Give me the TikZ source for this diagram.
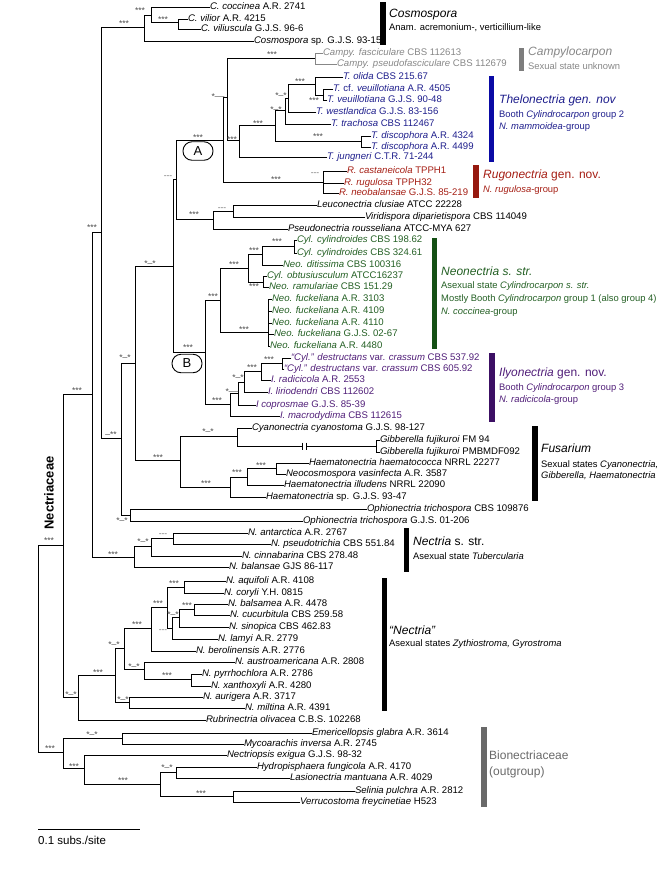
\documentclass[tikz,border=0pt]{standalone}
\usepackage{fontspec}
\setmainfont{Liberation Sans}
\definecolor{tblue}{RGB}{30,30,140}
\definecolor{bblue}{RGB}{10,10,165}
\definecolor{tred}{RGB}{165,30,20}
\definecolor{bred}{RGB}{150,25,15}
\definecolor{tgreen}{RGB}{35,95,35}
\definecolor{bgreen}{RGB}{20,80,20}
\definecolor{tpurp}{RGB}{80,30,120}
\definecolor{bpurp}{RGB}{60,15,100}
\definecolor{tgray}{RGB}{135,135,135}
\definecolor{bgray}{RGB}{125,125,125}
\definecolor{ogray}{RGB}{105,105,105}
\newcommand{\leafat}[5]{\coordinate (#1) at (#2,#3); \node[lf,#4] (#1t) at (#1) {#5};}
\newcommand{\supus}{\raisebox{3.8pt}{\_}}
\begin{document}
\begin{tikzpicture}[x=1pt,y=-1pt,
  br/.style={line width=0.9pt, line cap=rect},
  lf/.style={anchor=mid west, inner sep=0pt, outer sep=0pt, font=\fontsize{9.6}{10}\selectfont},
  lab/.style={anchor=base, yshift=-4.6pt, inner sep=0pt, font=\fontsize{8.5}{8.5}\selectfont, text=black!70},
  labd/.style={anchor=base, yshift=-2.3pt, inner sep=0pt, font=\fontsize{8.5}{8.5}\selectfont, text=black!55},
  ctitle/.style={anchor=mid west, inner sep=0pt, font=\fontsize{12}{12}\selectfont},
  csub/.style={anchor=mid west, inner sep=0pt, font=\fontsize{9.4}{10}\selectfont},
  oval/.style={draw, line width=0.9pt, rounded corners=9pt, minimum width=30pt, minimum height=18.5pt, inner sep=0pt, font=\fontsize{13}{13}\selectfont}
]
\useasboundingbox (0,0) rectangle (662,881);

% ---------- leaves ----------
\leafat{Lcoc}{210}{7}{}{\textit{C. coccinea} A.R. 2741}
\leafat{Lvil}{188}{19}{}{\textit{C. vilior} A.R. 4215}
\leafat{Lvls}{201}{29}{}{\textit{C. viliuscula} G.J.S. 96-6}
\leafat{Lcsp}{254}{41}{}{\textit{Cosmospora} sp. G.J.S. 93-15}
\leafat{Lcpf}{323}{53}{text=tgray}{\textit{Campy. fasciculare} CBS 112613}
\leafat{Lcpp}{337}{64}{text=tgray}{\textit{Campy. pseudofasciculare} CBS 112679}
\leafat{Loli}{343}{77}{text=tblue}{\textit{T. olida} CBS 215.67}
\leafat{Lcfv}{333}{89}{text=tblue}{\textit{T.} cf. \textit{veuillotiana} A.R. 4505}
\leafat{Lveu}{327}{100}{text=tblue}{\textit{T. veuillotiana} G.J.S. 90-48}
\leafat{Lwes}{316}{112}{text=tblue}{\textit{T. westlandica} G.J.S. 83-156}
\leafat{Ltra}{331}{124}{text=tblue}{\textit{T. trachosa} CBS 112467}
\leafat{Ldi1}{371}{136}{text=tblue}{\textit{T. discophora} A.R. 4324}
\leafat{Ldi2}{371}{147}{text=tblue}{\textit{T. discophora} A.R. 4499}
\leafat{Ljun}{327}{157}{text=tblue}{\textit{T. jungneri} C.T.R. 71-244}
\leafat{Lrca}{347}{171}{text=tred}{\textit{R. castaneicola} TPPH1}
\leafat{Lrru}{344}{183}{text=tred}{\textit{R. rugulosa} TPPH32}
\leafat{Lrne}{339}{193}{text=tred}{\textit{R. neobalansae} G.J.S. 85-219}
\leafat{Lleu}{317}{205}{}{\textit{Leuconectria clusiae} ATCC 22228}
\leafat{Lvir}{365}{217}{}{\textit{Viridispora diparietispora} CBS 114049}
\leafat{Lpse}{288}{229}{}{\textit{Pseudonectria rousseliana} ATCC-MYA 627}
\leafat{Lcy1}{297}{240}{text=tgreen}{\textit{Cyl. cylindroides} CBS 198.62}
\leafat{Lcy2}{297}{253}{text=tgreen}{\textit{Cyl. cylindroides} CBS 324.61}
\leafat{Ldit}{283}{265}{text=tgreen}{\textit{Neo. ditissima} CBS 100316}
\leafat{Lobt}{267}{276}{text=tgreen}{\textit{Cyl. obtusiusculum} ATCC16237}
\leafat{Lram}{269}{287}{text=tgreen}{\textit{Neo. ramulariae} CBS 151.29}
\leafat{Lfu1}{272}{299}{text=tgreen}{\textit{Neo. fuckeliana} A.R. 3103}
\leafat{Lfu2}{272}{311}{text=tgreen}{\textit{Neo. fuckeliana} A.R. 4109}
\leafat{Lfu3}{272}{323}{text=tgreen}{\textit{Neo. fuckeliana} A.R. 4110}
\leafat{Lfu4}{274}{334}{text=tgreen}{\textit{Neo. fuckeliana} G.J.S. 02-67}
\leafat{Lfu5}{270}{346}{text=tgreen}{\textit{Neo. fuckeliana} A.R. 4480}
\leafat{Lde1}{291}{358}{text=tpurp}{\textit{“Cyl.” destructans} var. \textit{crassum} CBS 537.92}
\leafat{Lde2}{284}{369}{text=tpurp}{\textit{“Cyl.” destructans} var. \textit{crassum} CBS 605.92}
\leafat{Lrad}{271}{380}{text=tpurp}{\textit{I. radicicola} A.R. 2553}
\leafat{Llir}{268}{392}{text=tpurp}{\textit{I. liriodendri} CBS 112602}
\leafat{Lcop}{256}{405}{text=tpurp}{\textit{I coprosmae} G.J.S. 85-39}
\leafat{Lmac}{280}{416}{text=tpurp}{\textit{I. macrodydima} CBS 112615}
\leafat{Lcya}{252}{428}{}{\textit{Cyanonectria cyanostoma} G.J.S. 98-127}
\leafat{Lgi1}{380}{440}{}{\textit{Gibberella fujikuroi} FM 94}
\leafat{Lgi2}{380}{452}{}{\textit{Gibberella fujikuroi} PMBMDF092}
\leafat{Lhhc}{309}{463}{}{\textit{Haematonectria haematococca} NRRL 22277}
\leafat{Lneo}{286}{474}{}{\textit{Neocosmospora vasinfecta} A.R. 3587}
\leafat{Lhil}{284}{485}{}{\textit{Haematonectria illudens} NRRL 22090}
\leafat{Lhsp}{266}{497}{}{\textit{Haematonectria} sp. G.J.S. 93-47}
\leafat{Lop1}{367}{509}{}{\textit{Ophionectria trichospora} CBS 109876}
\leafat{Lop2}{303}{521}{}{\textit{Ophionectria trichospora} G.J.S. 01-206}
\leafat{Lant}{248}{533}{}{\textit{N. antarctica} A.R. 2767}
\leafat{Lpst}{271}{544}{}{\textit{N. pseudotrichia} CBS 551.84}
\leafat{Lcin}{242}{556}{}{\textit{N. cinnabarina} CBS 278.48}
\leafat{Lbln}{229}{567}{}{\textit{N. balansae} GJS 86-117}
\leafat{Laqu}{226}{581}{}{\textit{N. aquifoli} A.R. 4108}
\leafat{Lcor}{224}{593}{}{\textit{N. coryli} Y.H. 0815}
\leafat{Lbal}{228}{604}{}{\textit{N. balsamea} A.R. 4478}
\leafat{Lcuc}{230}{615}{}{\textit{N. cucurbitula} CBS 259.58}
\leafat{Lsin}{229}{627}{}{\textit{N. sinopica} CBS 462.83}
\leafat{Llam}{218}{639}{}{\textit{N. lamyi} A.R. 2779}
\leafat{Lber}{196}{651}{}{\textit{N. berolinensis} A.R. 2776}
\leafat{Laus}{235}{662}{}{\textit{N. austroamericana} A.R. 2808}
\leafat{Lpyr}{202}{674}{}{\textit{N. pyrrhochlora} A.R. 2786}
\leafat{Lxan}{211}{686}{}{\textit{N. xanthoxyli} A.R. 4280}
\leafat{Laur}{203}{697}{}{\textit{N. aurigera} A.R. 3717}
\leafat{Lmil}{245}{708}{}{\textit{N. miltina} A.R. 4391}
\leafat{Lrub}{206}{720}{}{\textit{Rubrinectria olivacea} C.B.S. 102268}
\leafat{Leme}{312}{733}{}{\textit{Emericellopsis glabra} A.R. 3614}
\leafat{Lmyc}{244}{744}{}{\textit{Mycoarachis inversa} A.R. 2745}
\leafat{Lnex}{227}{755}{}{\textit{Nectriopsis exigua} G.J.S. 98-32}
\leafat{Lhyd}{257}{767}{}{\textit{Hydropisphaera fungicola} A.R. 4170}
\leafat{Llas}{290}{778}{}{\textit{Lasionectria mantuana} A.R. 4029}
\leafat{Lsel}{355}{791}{}{\textit{Selinia pulchra} A.R. 2812}
\leafat{Lver}{300}{802}{}{\textit{Verrucostoma freycinetiae} H523}

% ---------- internal nodes ----------
\coordinate (root) at (38,648);
\coordinate (nect) at (63,545);
\coordinate (n92) at (92,394);
\coordinate (n101) at (101,232);
\coordinate (cos0) at (144,27);
\coordinate (cos1) at (151,15);
\coordinate (cos2) at (178,22);
\coordinate (n121) at (121,438);
\coordinate (n135) at (135,363);
\coordinate (alb) at (173,266);
\coordinate (al) at (176,179);
\coordinate (anode) at (223,140);
\coordinate (ct) at (227,97);
\coordinate (campy) at (315,58);
\coordinate (th0) at (239,140);
\coordinate (th1) at (275,125);
\coordinate (th3) at (285,110);
\coordinate (th2) at (288,98);
\coordinate (oli) at (315,84);
\coordinate (veu) at (323,95);
\coordinate (disc) at (361,141);
\coordinate (rug) at (323,182);
\coordinate (leu0) at (213,219);
\coordinate (leu1) at (233,211);
\coordinate (bn) at (205,352);
\coordinate (ne0) at (220,300);
\coordinate (ne1) at (248,268);
\coordinate (ne2) at (262,254);
\coordinate (cyl) at (294,246);
\coordinate (ne3) at (263,282);
\coordinate (fk) at (268,332);
\coordinate (il0) at (230,404);
\coordinate (il1) at (238,393);
\coordinate (il2) at (244,382);
\coordinate (il3) at (261,371);
\coordinate (des) at (282,363);
\coordinate (fu0) at (180,460);
\coordinate (fu2) at (237,436);
\coordinate (gib) at (376,446);
\coordinate (hae0) at (230,487);
\coordinate (hae1) at (247,477);
\coordinate (hae2) at (276,468);
\coordinate (oph) at (130,515);
\coordinate (n134) at (134,557);
\coordinate (ns1) at (151,546);
\coordinate (ns2) at (173,538);
\coordinate (n78) at (78,697);
\coordinate (n115) at (115,675);
\coordinate (nc3) at (124,648);
\coordinate (nc2) at (151,628);
\coordinate (nc1) at (167,607);
\coordinate (aq) at (184,587);
\coordinate (lamn) at (172,628);
\coordinate (sinn) at (179,617);
\coordinate (baln) at (194,609);
\coordinate (nc4) at (144,669);
\coordinate (pyr) at (191,679);
\coordinate (aur) at (129,702);
\coordinate (bio0) at (63,752);
\coordinate (em) at (122,738);
\coordinate (bio1) at (84,768);
\coordinate (bio2) at (160,784);
\coordinate (hyd) at (176,772);
\coordinate (sel) at (233,796);

% ---------- branches ----------
\draw[br] (root) |- (nect) (root) |- (bio0)
  (nect) |- (n92) (nect) |- (n78)
  (n92) |- (n101) (n92) |- (n134)
  (n101) |- (cos0) (n101) |- (n121)
  (cos0) |- (cos1) (cos0) |- (Lcsp)
  (cos1) |- (Lcoc) (cos1) |- (cos2)
  (cos2) |- (Lvil) (cos2) |- (Lvls)
  (n121) |- (n135) (n121) |- (oph)
  (n135) |- (alb) (n135) |- (fu0)
  (alb) |- (al) (alb) |- (bn)
  (al) |- (anode) (al) |- (leu0)
  (anode) |- (ct) (anode) |- (rug)
  (ct) |- (campy) (ct) |- (th0)
  (th0) |- (th1) (th0) |- (Ljun)
  (th1) |- (th3) (th1) |- (disc)
  (th3) |- (th2) (th3) |- (Ltra)
  (th2) |- (oli) (th2) |- (Lwes)
  (oli) |- (Loli) (oli) |- (veu)
  (veu) |- (Lcfv) (veu) |- (Lveu)
  (disc) |- (Ldi1) (disc) |- (Ldi2)
  (rug) |- (Lrca) (rug) |- (Lrru) (rug) |- (Lrne)
  (leu0) |- (leu1) (leu0) |- (Lpse)
  (leu1) |- (Lleu) (leu1) |- (Lvir)
  (bn) |- (ne0) (bn) |- (il0)
  (ne0) |- (ne1) (ne0) |- (fk)
  (ne1) |- (ne2) (ne1) |- (ne3)
  (ne2) |- (cyl) (ne2) |- (Ldit)
  (cyl) |- (Lcy1) (cyl) |- (Lcy2)
  (ne3) |- (Lobt) (ne3) |- (Lram)
  (fk) |- (Lfu1) (fk) |- (Lfu2) (fk) |- (Lfu3) (fk) |- (Lfu4) (fk) |- (Lfu5)
  (il0) |- (il1) (il0) |- (Lmac)
  (il1) |- (il2) (il1) |- (Lcop)
  (il2) |- (il3) (il2) |- (Llir)
  (il3) |- (des) (il3) |- (Lrad)
  (des) |- (Lde1) (des) |- (Lde2)
  (fu0) |- (fu2) (fu0) |- (hae0)
  (fu2) |- (Lcya) (fu2) |- (gib)
  (gib) |- (Lgi1) (gib) |- (Lgi2)
  (hae0) |- (hae1) (hae0) |- (Lhsp)
  (hae1) |- (hae2) (hae1) |- (Lhil)
  (hae2) |- (Lhhc) (hae2) |- (Lneo)
  (oph) |- (Lop1) (oph) |- (Lop2)
  (n134) |- (ns1) (n134) |- (Lbln)
  (ns1) |- (ns2) (ns1) |- (Lcin)
  (ns2) |- (Lant) (ns2) |- (Lpst)
  (n78) |- (n115) (n78) |- (Lrub)
  (n115) |- (nc3) (n115) |- (aur)
  (nc3) |- (nc2) (nc3) |- (nc4)
  (nc2) |- (nc1) (nc2) |- (Lber)
  (nc1) |- (aq) (nc1) |- (lamn)
  (aq) |- (Laqu) (aq) |- (Lcor)
  (lamn) |- (sinn) (lamn) |- (Llam)
  (sinn) |- (baln) (sinn) |- (Lsin)
  (baln) |- (Lbal) (baln) |- (Lcuc)
  (nc4) |- (Laus) (nc4) |- (pyr)
  (pyr) |- (Lpyr) (pyr) |- (Lxan)
  (aur) |- (Laur) (aur) |- (Lmil)
  (bio0) |- (em) (bio0) |- (bio1)
  (em) |- (Leme) (em) |- (Lmyc)
  (bio1) |- (Lnex) (bio1) |- (bio2)
  (bio2) |- (hyd) (bio2) |- (sel)
  (hyd) |- (Lhyd) (hyd) |- (Llas)
  (sel) |- (Lsel) (sel) |- (Lver);
\draw[br, draw=tgray] (campy) |- (Lcpf) (campy) |- (Lcpp);

% break mark on Gibberella branch
\fill[white] (302.5,444) rectangle (306,448);
\draw[line width=0.6pt] (302.5,442.5) -- (302.5,449.5) (306,442.5) -- (306,449.5);

% ---------- support labels ----------
\node[lab] (s1) at (124,22) {***};
\node[lab] (s2) at (140,9) {***};
\node[lab] (s3) at (163,18) {***};
\node[lab] (s4) at (272,53) {***};
\node[lab] (s5) at (218,95) {*\supus\supus};
\node[lab] (s6) at (232,138) {***};
\node[lab] (s7) at (258,122) {***};
\node[lab] (s8) at (276,107.5) {*\supus*};
\node[lab] (s9) at (281,94) {*\supus*};
\node[lab] (s10) at (300,80) {***};
\node[lab] (s11) at (314,99) {***};
\node[lab] (s12) at (318,135) {***};
\node[lab] (s13) at (198,136) {***};
\node[lab] (s14) at (276,178) {***};
\node[labd] (s15) at (315,173) {-{}-{}-};
\node[labd] (s16) at (168,176) {-{}-{}-};
\node[lab] (s17) at (194,213) {***};
\node[labd] (s18) at (222,208) {-{}-{}-};
\node[lab] (s19) at (150,262) {*\supus*};
\node[lab] (s20) at (188,346) {***};
\node[lab] (s21) at (213,295) {***};
\node[lab] (s22) at (234,263) {***};
\node[lab] (s23) at (254,249) {***};
\node[lab] (s24) at (277,240) {***};
\node[lab] (s25) at (254,285) {***};
\node[lab] (s26) at (244,328) {***};
\node[lab] (s27) at (269,358) {***};
\node[lab] (s28) at (252,366) {***};
\node[lab] (s29) at (238,376) {*\supus*};
\node[lab] (s30) at (232,389.5) {*\supus\supus};
\node[lab] (s31) at (217,399) {***};
\node[lab] (s32) at (125,356) {*\supus*};
\node[lab] (s33) at (111,433) {\supus**};
\node[lab] (s34) at (158,456) {***};
\node[lab] (s35) at (208,430) {*\supus*};
\node[lab] (s36) at (206,482) {***};
\node[lab] (s37) at (237,471) {***};
\node[lab] (s38) at (261,464) {***};
\node[lab] (s39) at (122,519) {*\supus*};
\node[lab] (s40) at (113,553) {***};
\node[lab] (s41) at (143,540) {*\supus*};
\node[labd] (s42) at (163,534) {-{}-{}-};
\node[lab] (s43) at (49,539) {***};
\node[lab] (s44) at (71,693) {*\supus*};
\node[lab] (s45) at (98,671) {***};
\node[lab] (s46) at (114,643) {*\supus*};
\node[lab] (s47) at (137,623) {***};
\node[lab] (s48) at (158,602) {***};
\node[lab] (s49) at (174,582) {***};
\node[lab] (s50) at (187,604) {***};
\node[lab] (s51) at (173,613) {*\supus*};
\node[labd] (s52) at (163,630) {-{}-{}-};
\node[lab] (s53) at (134,665) {*\supus*};
\node[lab] (s54) at (167,674) {***};
\node[lab] (s55) at (123,698) {*\supus*};
\node[lab] (s56) at (50,747) {***};
\node[lab] (s57) at (92,733) {*\supus*};
\node[lab] (s58) at (74,765) {***};
\node[lab] (s59) at (123,779) {***};
\node[lab] (s60) at (167,766) {*\supus*};
\node[lab] (s61) at (201,792) {***};
\node[lab] (s62) at (77,389) {***};
\node[lab] (s63) at (92,226) {***};

% ---------- ovals ----------
\node[oval] (ovA) at (198,151) {A};
\node[oval] (ovB) at (187,363.5) {B};

% ---------- clade bars and names ----------
\fill[black] (380,2) rectangle (386,45);
\node[ctitle] (tCos) at (389,15) {\textit{Cosmospora}};
\node[csub] (sCos) at (389,28) {Anam. acremonium-, verticillium-like};

\fill[bgray] (519,48) rectangle (524,71);
\node[ctitle, text=tgray] (tCam) at (528,53) {\textit{Campylocarpon}};
\node[csub, text=tgray] (sCam) at (528,67) {Sexual state unknown};

\fill[bblue] (489,76) rectangle (494,162);
\node[ctitle, text=tblue] (tThe) at (499,101) {\textit{Thelonectria gen. nov}};
\node[csub, text=tblue] (sThe1) at (499,115) {Booth \textit{Cylindrocarpon} group 2};
\node[csub, text=tblue] (sThe2) at (499,127) {\textit{N. mammoidea}-group};

\fill[bred] (473,165) rectangle (479,198);
\node[ctitle, text=tred] (tRug) at (483,176) {\textit{Rugonectria} gen. nov.};
\node[csub, text=tred] (sRug) at (483,190) {\textit{N. rugulosa}-group};

\fill[bgreen] (432,238) rectangle (437,349);
\node[ctitle, text=tgreen] (tNeo) at (441,273) {\textit{Neonectria s. str.}};
\node[csub, text=tgreen] (sNeo1) at (441,286) {Asexual state \textit{Cylindrocarpon s. str.}};
\node[csub, text=tgreen] (sNeo2) at (441,299) {Mostly Booth \textit{Cylindrocarpon} group 1 (also group 4)};
\node[csub, text=tgreen] (sNeo3) at (441,312) {\textit{N. coccinea}-group};

\fill[bpurp] (489,353) rectangle (495,422);
\node[ctitle, text=tpurp] (tIly) at (499,374) {\textit{Ilyonectria} gen. nov.};
\node[csub, text=tpurp] (sIly1) at (499,388) {Booth \textit{Cylindrocarpon} group 3};
\node[csub, text=tpurp] (sIly2) at (499,400) {\textit{N. radicicola}-group};

\fill[black] (532,426) rectangle (538,501);
\node[ctitle] (tFus) at (541,450) {\textit{Fusarium}};
\node[csub] (sFus1) at (541,465) {Sexual states \textit{Cyanonectria,}};
\node[csub] (sFus2) at (541,476) {\textit{Gibberella, Haematonectria}};

\fill[black] (404,528) rectangle (409,572);
\node[ctitle] (tNss) at (413,543) {\textit{Nectria} s. str.};
\node[csub] (sNss) at (413,557) {Asexual state \textit{Tubercularia}};

\fill[black] (382,578) rectangle (387,711);
\node[ctitle] (tNq) at (389,632) {\textit{“Nectria”}};
\node[csub] (sNq) at (389,644) {Asexual states \textit{Zythiostroma, Gyrostroma}};

\fill[ogray] (481,727) rectangle (487,807);
\node[ctitle, text=ogray] (tBio1) at (489,757) {Bionectriaceae};
\node[ctitle, text=ogray] (tBio2) at (489,773) {(outgroup)};

% family label
\node[rotate=90, inner sep=0pt, font=\bfseries\fontsize{13}{13}\selectfont] (fam) at (49,493) {Nectriaceae};

% scale bar
\coordinate (sb1) at (38,829);
\coordinate (sb2) at (140,829);
\draw[line width=0.9pt] (sb1) -- (sb2);
\node[anchor=mid west, inner sep=0pt, font=\fontsize{11.5}{12}\selectfont] (sbt) at (38,842) {0.1 subs./site};
\end{tikzpicture}
\end{document}
